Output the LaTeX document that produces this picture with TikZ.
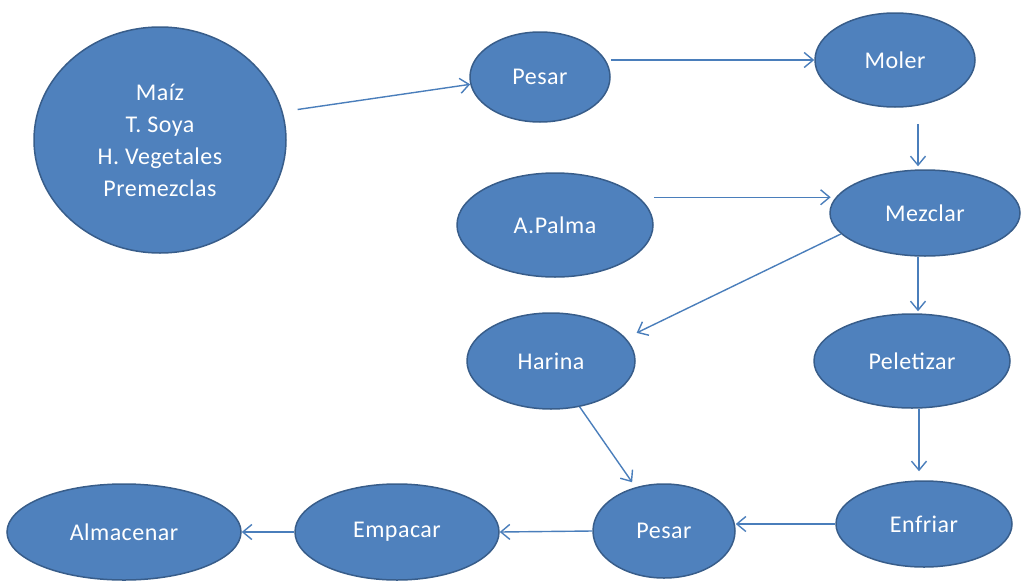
\documentclass[tikz,border=0pt]{standalone}
\usepackage{fontspec}
\setmainfont{Carlito}[LetterSpace=2]
\usetikzlibrary{shapes.geometric,arrows.meta}
\definecolor{fillblue}{HTML}{4F81BD}
\definecolor{edgeblue}{HTML}{385D8A}
\definecolor{arrblue}{HTML}{4A7EBB}
\begin{document}
\begin{tikzpicture}[x=1pt,y=-1pt,
  proc/.style={ellipse, fill=fillblue, draw=edgeblue, line width=1.5pt, text=white,
    inner sep=0pt, font=\fontsize{24}{32}\selectfont, align=center},
  arr/.style={draw=arrblue, line width=1.4pt, -{Straight Barb[length=9pt,width=15pt]}}]
\useasboundingbox (0,0) rectangle (1022,581);
\node[proc, minimum width=252pt, minimum height=226pt] (big) at (160,140) {Maíz\\T. Soya\\H. Vegetales\\Premezclas};
\node[proc, minimum width=140pt, minimum height=90pt] (pesar1) at (540,77) {Pesar};
\node[proc, minimum width=160pt, minimum height=94pt] (moler) at (895,60) {Moler};
\node[proc, minimum width=196pt, minimum height=104pt] (apalma) at (555,225) {A.Palma};
\node[proc, minimum width=190pt, minimum height=86pt] (mezclar) at (925,213) {Mezclar};
\node[proc, minimum width=168pt, minimum height=96pt] (harina) at (551,361) {Harina};
\node[proc, minimum width=196pt, minimum height=94pt] (peletizar) at (912,361) {Peletizar};
\node[proc, minimum width=176pt, minimum height=86pt] (enfriar) at (924,524) {Enfriar};
\node[proc, minimum width=142pt, minimum height=94pt] (pesar2) at (664,531) {Pesar};
\node[proc, minimum width=204pt, minimum height=96pt] (empacar) at (397,532) {Empacar};
\node[proc, minimum width=234pt, minimum height=96pt] (almacenar) at (124,532) {Almacenar};

\draw[arr, shorten <=15pt] (big.13.5) -- (pesar1.186);
\draw[arr] (pesar1.east |- moler.west) -- (moler.west);
\draw[arr, shorten <=16pt, shorten >=3pt] ([xshift=23pt]moler.south) -- ([xshift=-7pt]mezclar.north);
\draw[arr, shorten >=5pt] (apalma.east |- mezclar.170.6) -- (mezclar.170.6);
\draw[arr, shorten >=12pt] (mezclar.194) -- (harina.17);
\draw[arr, shorten >=2pt] ([xshift=-7pt]mezclar.south) -- ([xshift=6pt]peletizar.north);
\draw[arr, shorten >=9pt] ([xshift=7pt]peletizar.south) -- ([xshift=-5pt]enfriar.north);
\draw[arr, shorten >=6pt] (harina.-58) -- (pesar2.123);
\draw[arr] (enfriar.west) -- (enfriar.west -| pesar2.east);
\draw[arr] (pesar2.west) -- (empacar.east);
\draw[arr] (empacar.west) -- (almacenar.east);
\end{tikzpicture}
\end{document}
